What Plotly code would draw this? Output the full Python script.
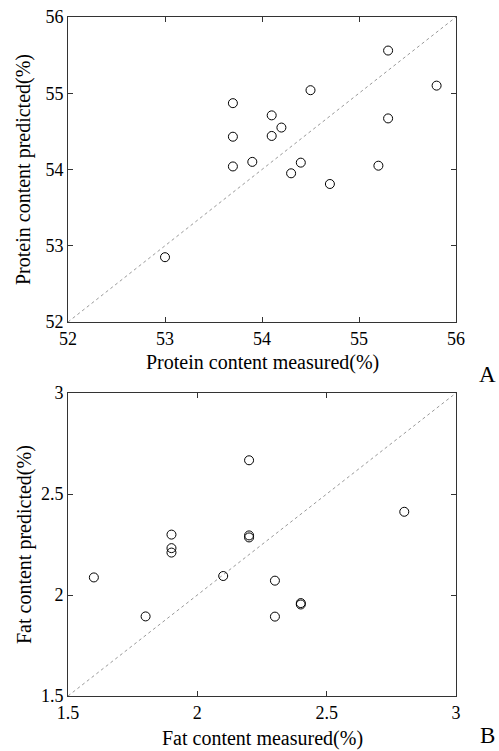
import plotly.graph_objects as go

# protein (panel A)
protein_measured = [53.0, 53.7, 53.7, 53.7, 53.9, 54.1, 54.1, 54.2, 54.3, 54.4,
                    54.5, 54.7, 55.2, 55.3, 55.3, 55.8]
protein_predicted = [52.85, 54.87, 54.43, 54.04, 54.10, 54.71, 54.44, 54.55, 53.95, 54.09,
                     55.04, 53.81, 54.05, 55.56, 54.67, 55.10]
protein_ticks = [52, 53, 54, 55, 56]

# fat (panel B)
fat_measured = [1.6, 1.8, 1.9, 1.9, 1.9, 2.1, 2.2, 2.2, 2.2, 2.3, 2.3, 2.4, 2.4, 2.8]
fat_predicted = [2.087, 1.894, 2.299, 2.232, 2.210, 2.094, 2.667, 2.295, 2.285, 2.071,
                 1.893, 1.960, 1.953, 2.412]
fat_ticks = [1.5, 2, 2.5, 3]
fat_ticktext = ["1.5", "2", "2.5", "3"]

W, H = 499, 751
L, R, T, B = 68, 43, 17, 55
IW, IH = W - L - R, H - T - B
FONT = "Liberation Serif, Times New Roman, serif"

fig = go.Figure()

marker = dict(symbol="circle-open", size=9, color="black", line=dict(width=1, color="black"))
diag = dict(color="#999999", width=1, dash="dot")

fig.add_trace(go.Scatter(x=[protein_ticks[0], protein_ticks[-1]], y=[protein_ticks[0], protein_ticks[-1]],
                         mode="lines", line=diag, xaxis="x", yaxis="y", hoverinfo="skip"))
fig.add_trace(go.Scatter(x=protein_measured, y=protein_predicted, mode="markers",
                         marker=marker, xaxis="x", yaxis="y"))
fig.add_trace(go.Scatter(x=[fat_ticks[0], fat_ticks[-1]], y=[fat_ticks[0], fat_ticks[-1]],
                         mode="lines", line=diag, xaxis="x2", yaxis="y2", hoverinfo="skip"))
fig.add_trace(go.Scatter(x=fat_measured, y=fat_predicted, mode="markers",
                         marker=marker, xaxis="x2", yaxis="y2"))

ax = dict(showline=True, linecolor="#333333", linewidth=1, mirror="ticks", ticks="inside",
          ticklen=5, tickcolor="#333333", showgrid=False, zeroline=False, automargin=False,
          tickfont=dict(family=FONT, size=18, color="black"))


def ydom(top_px, bottom_px):
    return [1 - (bottom_px - T) / IH, 1 - (top_px - T) / IH]


fig.update_layout(
    width=W, height=H, margin=dict(l=L, r=R, t=T, b=B, autoexpand=False),
    paper_bgcolor="white", plot_bgcolor="white", showlegend=False,
    xaxis=dict(ax, domain=[0, 1], range=[52, 56], tickvals=protein_ticks, anchor="y"),
    yaxis=dict(ax, domain=ydom(17, 322), range=[52, 56], tickvals=protein_ticks, anchor="x"),
    xaxis2=dict(ax, domain=[0, 1], range=[1.5, 3], tickvals=fat_ticks, ticktext=fat_ticktext, anchor="y2"),
    yaxis2=dict(ax, domain=ydom(393, 696), range=[1.5, 3], tickvals=fat_ticks,
                ticktext=fat_ticktext, anchor="x2"),
)


def label(text, x, y, angle=0, size=20):
    fig.add_annotation(text=text, x=(x - L) / IW, y=1 - (y - T) / IH, xref="paper", yref="paper",
                       xanchor="center", yanchor="middle",
                       showarrow=False, textangle=angle, font=dict(family=FONT, size=size, color="black"))


label("Protein content measured(%)", 262, 362)
label("Protein content predicted(%)", 24, 170, angle=-90)
label("A", 487, 374, size=23)
label("Fat content measured(%)", 262, 738)
label("Fat content predicted(%)", 24, 545, angle=-90)
label("B", 487, 735, size=23)

# page body has a default margin; drop it so the figure sits at the window's corner
fig.write_html("out.html", config={"displayModeBar": False},
               post_script="document.body.style.margin='0';")
